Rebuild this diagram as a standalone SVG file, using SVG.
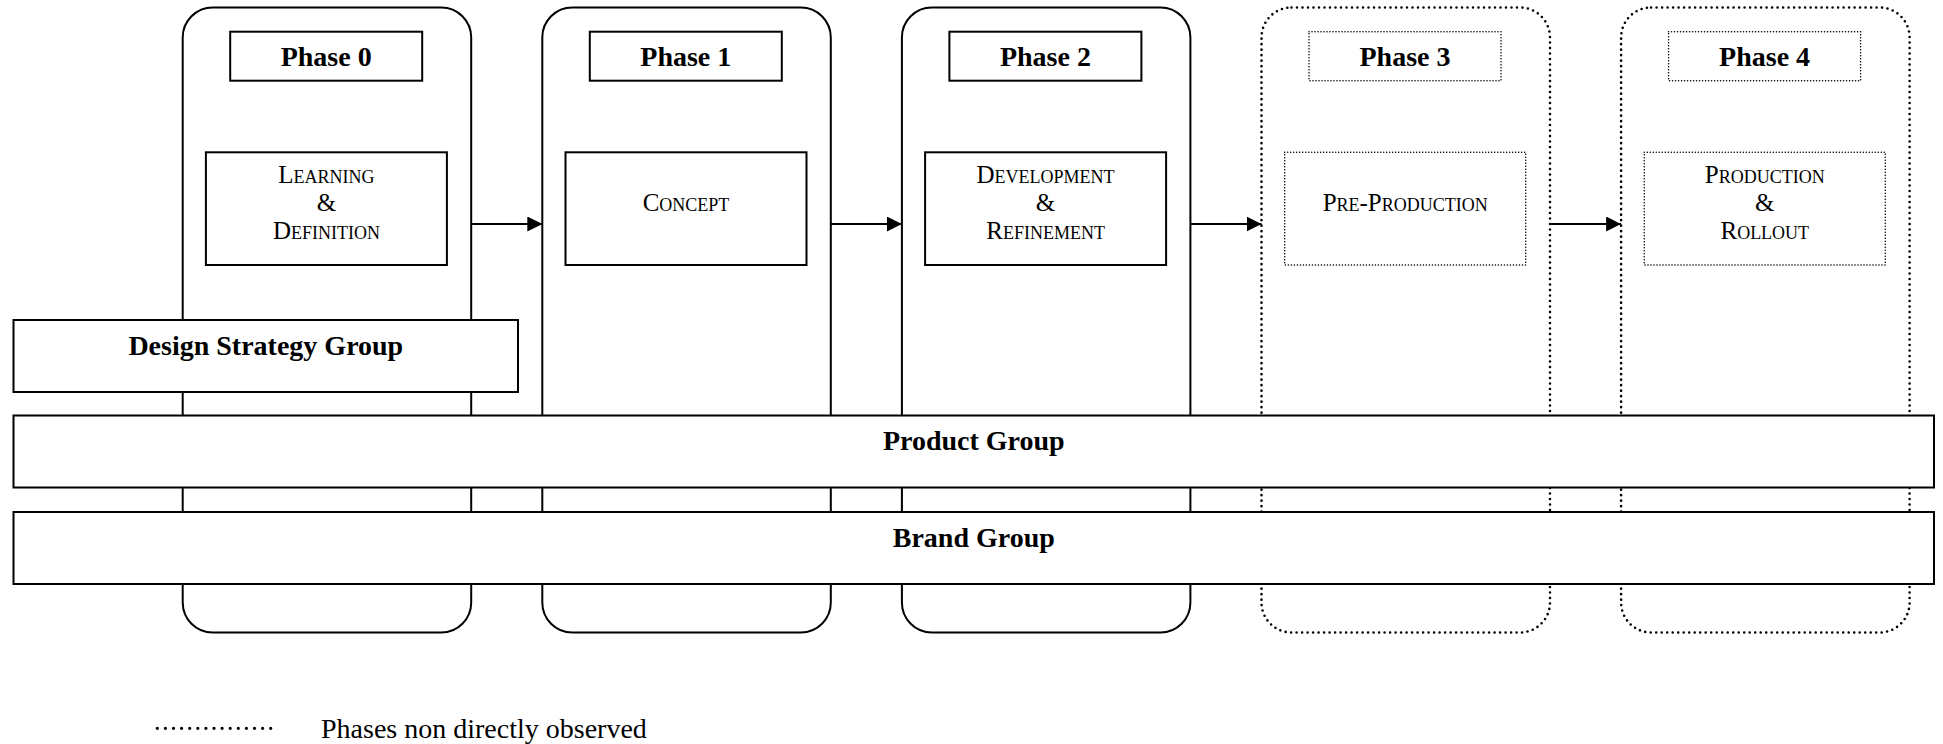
<svg xmlns="http://www.w3.org/2000/svg" width="1943" height="744" viewBox="0 0 1943 744">
  <style>
    .phase { fill: #fff; stroke: #000; stroke-width: 2; }
    .phase.dotted { stroke-width: 2.6; stroke-dasharray: 0 5.5; stroke-linecap: round; }
    .box { fill: #fff; stroke: #000; stroke-width: 2; }
    .box.dotted { stroke-width: 1.6; stroke-dasharray: 0 3; stroke-linecap: round; }
    .bar { fill: #fff; stroke: #000; stroke-width: 2; }
    .title { font-family: "Liberation Serif", "Times New Roman", serif; font-weight: bold; font-size: 28px; text-anchor: middle; fill: #000; }
    .step { font-family: "Liberation Serif", "Times New Roman", serif; font-size: 25px; font-variant: small-caps; text-anchor: middle; fill: #000; }
    .legend { font-family: "Liberation Serif", "Times New Roman", serif; font-size: 28px; fill: #000; }
    .flow { stroke: #000; stroke-width: 2; fill: none; }
  </style>
  <defs>
    <marker id="arrowhead" markerWidth="15" markerHeight="15" refX="15" refY="7.5" orient="auto" markerUnits="userSpaceOnUse">
      <path d="M0,0 L15,7.5 L0,15 Z" fill="#000"/>
    </marker>
  </defs>

  <!-- Phase 0 -->
  <g id="phase-0">
    <rect class="phase" x="182.7" y="7.5" width="288.5" height="625" rx="30" ry="30"/>
    <rect class="box" x="230.2" y="31.7" width="192" height="49"/>
    <text class="title" x="326.2" y="66">Phase 0</text>
    <rect class="box" x="205.9" y="152.3" width="241" height="112.7"/>
    <text class="step" x="326.4" y="183">Learning</text>
    <text class="step" x="326.4" y="211">&amp;</text>
    <text class="step" x="326.4" y="239">Definition</text>
  </g>

  <!-- Phase 1 -->
  <g id="phase-1">
    <rect class="phase" x="542.3" y="7.5" width="288.5" height="625" rx="30" ry="30"/>
    <rect class="box" x="589.8" y="31.7" width="192" height="49"/>
    <text class="title" x="685.8" y="66">Phase 1</text>
    <rect class="box" x="565.5" y="152.3" width="241" height="112.7"/>
    <text class="step" x="686" y="211">Concept</text>
  </g>

  <!-- Phase 2 -->
  <g id="phase-2">
    <rect class="phase" x="901.9" y="7.5" width="288.5" height="625" rx="30" ry="30"/>
    <rect class="box" x="949.4" y="31.7" width="192" height="49"/>
    <text class="title" x="1045.4" y="66">Phase 2</text>
    <rect class="box" x="925.1" y="152.3" width="241" height="112.7"/>
    <text class="step" x="1045.6" y="183">Development</text>
    <text class="step" x="1045.6" y="211">&amp;</text>
    <text class="step" x="1045.6" y="239">Refinement</text>
  </g>

  <!-- Phase 3 (not directly observed) -->
  <g id="phase-3">
    <rect class="phase dotted" x="1261.5" y="7.5" width="288.5" height="625" rx="30" ry="30"/>
    <rect class="box dotted" x="1309" y="31.7" width="192" height="49"/>
    <text class="title" x="1405" y="66">Phase 3</text>
    <rect class="box dotted" x="1284.7" y="152.3" width="241" height="112.7"/>
    <text class="step" x="1405.2" y="211">Pre-Production</text>
  </g>

  <!-- Phase 4 (not directly observed) -->
  <g id="phase-4">
    <rect class="phase dotted" x="1621.1" y="7.5" width="288.5" height="625" rx="30" ry="30"/>
    <rect class="box dotted" x="1668.6" y="31.7" width="192" height="49"/>
    <text class="title" x="1764.6" y="66">Phase 4</text>
    <rect class="box dotted" x="1644.3" y="152.3" width="241" height="112.7"/>
    <text class="step" x="1764.8" y="183">Production</text>
    <text class="step" x="1764.8" y="211">&amp;</text>
    <text class="step" x="1764.8" y="239">Rollout</text>
  </g>

  <!-- Flow between phases -->
  <g id="connectors">
    <line class="flow" x1="471.2" y1="224" x2="542.3" y2="224" marker-end="url(#arrowhead)"/>
    <line class="flow" x1="830.8" y1="224" x2="901.9" y2="224" marker-end="url(#arrowhead)"/>
    <line class="flow" x1="1190.4" y1="224" x2="1261.5" y2="224" marker-end="url(#arrowhead)"/>
    <line class="flow" x1="1550" y1="224" x2="1621.1" y2="224" marker-end="url(#arrowhead)"/>
  </g>

  <!-- Organisational groups spanning the phases -->
  <g id="design-strategy-group">
    <rect class="bar" x="13.5" y="320" width="504.5" height="72"/>
    <text class="title" x="265.8" y="355">Design Strategy Group</text>
  </g>
  <g id="product-group">
    <rect class="bar" x="13.5" y="415.5" width="1920.5" height="72"/>
    <text class="title" x="973.8" y="450">Product Group</text>
  </g>
  <g id="brand-group">
    <rect class="bar" x="13.5" y="512" width="1920.5" height="72"/>
    <text class="title" x="973.8" y="547">Brand Group</text>
  </g>

  <!-- Legend -->
  <g id="legend">
    <line x1="157.3" y1="728.3" x2="270.8" y2="728.3" stroke="#000" stroke-width="3.3" stroke-dasharray="0 8.1" stroke-linecap="round"/>
    <text class="legend" x="321" y="738">Phases non directly observed</text>
  </g>
</svg>
